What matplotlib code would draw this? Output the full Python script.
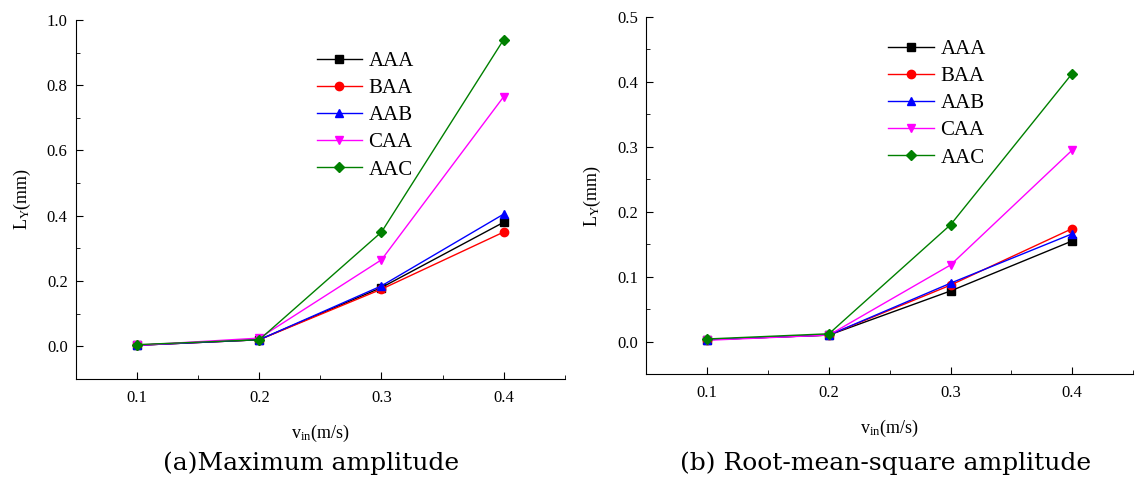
import matplotlib
matplotlib.use('Agg')
import matplotlib.pyplot as plt
from matplotlib.ticker import MultipleLocator

plt.rcParams['font.family'] = 'Liberation Serif'
plt.rcParams['mathtext.fontset'] = 'custom'
plt.rcParams['mathtext.rm'] = 'Liberation Serif'
plt.rcParams['mathtext.it'] = 'Liberation Serif:italic'

# data
v_in = [0.1, 0.2, 0.3, 0.4]
labels = ['AAA', 'BAA', 'AAB', 'CAA', 'AAC']

max_AAA = [0.003, 0.020, 0.180, 0.380]
max_BAA = [0.003, 0.020, 0.175, 0.350]
max_AAB = [0.003, 0.020, 0.185, 0.405]
max_CAA = [0.003, 0.025, 0.265, 0.765]
max_AAC = [0.005, 0.020, 0.350, 0.940]

rms_AAA = [0.003, 0.010, 0.078, 0.155]
rms_BAA = [0.003, 0.010, 0.087, 0.174]
rms_AAB = [0.003, 0.010, 0.090, 0.166]
rms_CAA = [0.002, 0.010, 0.118, 0.295]
rms_AAC = [0.004, 0.012, 0.180, 0.413]

colors = ['black', 'red', 'blue', 'magenta', 'green']
markers = ['s', 'o', '^', 'v', 'D']


def draw_panel(ax, series, ylim, ymajor, legend_x, legend_y):
    for vals, lab, c, m in zip(series, labels, colors, markers):
        ax.plot(v_in, vals, color=c, marker=m, markersize=6 if m != 'D' else 5,
                linewidth=1, label=lab)
    ax.set_xlim(0.05, 0.45)
    ax.set_ylim(*ylim)
    ax.set_xticks(v_in)
    ax.xaxis.set_minor_locator(MultipleLocator(0.05))
    ax.yaxis.set_major_locator(MultipleLocator(ymajor))
    ax.yaxis.set_minor_locator(MultipleLocator(ymajor / 2))
    ax.set_yticks([t for t in ax.get_yticks() if t >= -1e-9 and t <= ylim[1] + 1e-9])
    ax.yaxis.set_major_formatter(plt.FormatStrFormatter('%.1f'))
    ax.spines['top'].set_visible(False)
    ax.spines['right'].set_visible(False)
    ax.tick_params(direction='in', which='both', labelsize=12, length=5)
    ax.tick_params(which='minor', length=3)
    ax.tick_params(axis='x', pad=8)
    ax.tick_params(axis='y', pad=6)
    ax.set_xlabel(r'v$_{\rm in}$(m/s)', fontsize=13, labelpad=12)
    ax.set_ylabel(r'L$_{\rm Y}$(mm)', fontsize=13, labelpad=10)
    ax.legend(loc='upper left', bbox_to_anchor=(legend_x, legend_y), frameon=False,
              fontsize=15, handlelength=2.2, handletextpad=0.3, labelspacing=0.36,
              borderaxespad=0)


fig = plt.figure(figsize=(11.41, 4.87), dpi=100)
ax1 = fig.add_axes([0.0666, 0.222, 0.4284, 0.737])
ax2 = fig.add_axes([0.5666, 0.232, 0.4264, 0.733])

draw_panel(ax1, [max_AAA, max_BAA, max_AAB, max_CAA, max_AAC], (-0.1, 1.0), 0.2,
           0.475, 0.935)
draw_panel(ax2, [rms_AAA, rms_BAA, rms_AAB, rms_CAA, rms_AAC], (-0.05, 0.5), 0.1,
           0.48, 0.96)

fig.text(311 / 1141, 1 - 463 / 487, '(a)Maximum amplitude', ha='center', va='center',
         fontsize=18, family='DejaVu Serif')
fig.text(886 / 1141, 1 - 463 / 487, '(b) Root-mean-square amplitude', ha='center',
         va='center', fontsize=18, family='DejaVu Serif')

fig.savefig('out.png', dpi=100)
